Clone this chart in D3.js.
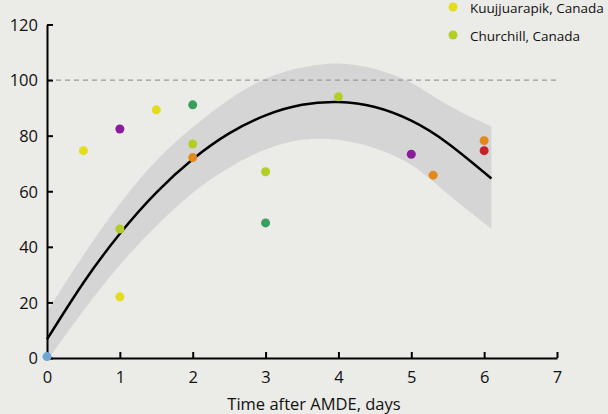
<!DOCTYPE html>
<html><head><meta charset="utf-8">
<script src="https://cdn.jsdelivr.net/npm/d3@7"></script>
<style>
html,body{margin:0;padding:0;background:#ebebe7;}
svg{display:block;}
text{font-family:"Open Sans","Liberation Sans",sans-serif;fill:#111;}
</style></head>
<body><svg id="c" width="608" height="414"></svg>
<script>
// observations
const obsX = [0, 0.5, 1, 1.5, 1, 5, 2, 3, 1, 2, 3, 4, 2, 5.3, 6, 6];
const obsY = [0.5, 74.6, 22, 89.3, 82.4, 73.3, 91.1, 48.6, 46.4, 77, 67, 94, 72.1, 65.8, 78.2, 74.6];
const obsColor = ["#6fa6d8","#e3dc1f","#e3dc1f","#e3dc1f","#8c1a9c","#8c1a9c","#3a9e5f","#3a9e5f",
  "#b5cd27","#b5cd27","#b5cd27","#b5cd27","#e3891a","#e3891a","#e3891a","#c81f2a"];
// fitted curve and confidence band
const fitX = [0, 0.5, 1, 1.5, 2, 2.5, 3, 3.5, 4, 4.5, 5, 5.5, 6.1];
const fitY = [6.7, 27.1, 44.7, 59.5, 71.5, 80.8, 87.3, 91.1, 92.1, 90.3, 85.4, 77.3, 64.6];
const bandUpper = [16.8, 37, 55.5, 71, 83, 93, 100.5, 104.5, 106, 104, 99, 91, 83.3];
const bandLower = [-1, 17, 33.5, 47.5, 59.5, 68.5, 75, 78.5, 78.5, 75.5, 69.5, 59, 46.5];
// legend
const legendLabels = ["Kuujjuarapik, Canada", "Churchill, Canada"];
const legendColors = ["#e3dc1f", "#b5cd27"];
// ticks
const xTicks = [0,1,2,3,4,5,6,7];
const yTicks = [0,20,40,60,80,100,120];

const svg = d3.select("#c");
const x = d3.scaleLinear().domain([0,7]).range([47,557]);
const y = d3.scaleLinear().domain([0,120]).range([358,24.5]);

// band
const bandData = fitX.map((d,i)=>({x:d, lo:bandLower[i], hi:bandUpper[i]}));
svg.append("path").datum(bandData)
  .attr("d", d3.area().x(d=>x(d.x)).y0(d=>y(d.lo)).y1(d=>y(d.hi)).curve(d3.curveNatural))
  .attr("fill","#d5d5d5");

// dashed 100 line
svg.append("line").attr("x1",x(0)).attr("x2",560).attr("y1",y(100)).attr("y2",y(100))
  .attr("stroke","#999").attr("stroke-width",1.3).attr("stroke-dasharray","5,4");

// fit line
svg.append("path").datum(fitX.map((d,i)=>[d,fitY[i]]))
  .attr("d", d3.line().x(d=>x(d[0])).y(d=>y(d[1])).curve(d3.curveNatural))
  .attr("fill","none").attr("stroke","#000").attr("stroke-width",2.5);

// axes
const xAxis = svg.append("g").attr("transform",`translate(0,${y(0)})`)
  .call(d3.axisBottom(x).tickValues(xTicks).tickSizeInner(-6).tickSizeOuter(0).tickFormat(d3.format("d")));
xAxis.select(".domain").attr("stroke","#000").attr("stroke-width",2);
xAxis.selectAll(".tick line").attr("stroke","#000").attr("stroke-width",2);
xAxis.selectAll(".tick text").attr("y",25).attr("dy",0).style("font-size","16.5px").style("font-family","'Open Sans',sans-serif").attr("fill","#111");

const yAxis = svg.append("g").attr("transform",`translate(${x(0)},0)`)
  .call(d3.axisLeft(y).tickValues(yTicks).tickSizeInner(-6).tickSizeOuter(0).tickFormat(d3.format("d")));
yAxis.select(".domain").attr("stroke","#000").attr("stroke-width",2);
yAxis.selectAll(".tick line").attr("stroke","#000").attr("stroke-width",2);
yAxis.selectAll(".tick text").attr("x",-9).attr("dy","0.35em").style("font-size","16.5px").style("font-family","'Open Sans',sans-serif").attr("fill","#111");

// points
svg.append("g").selectAll("circle").data(obsX).join("circle")
  .attr("cx",(d)=>x(d)).attr("cy",(d,i)=>y(obsY[i])).attr("r",4.5)
  .attr("fill",(d,i)=>obsColor[i]);

// axis title
svg.append("text").attr("x",314).attr("y",410).attr("text-anchor","middle")
  .style("font-size","16.5px").text("Time after AMDE, days");

// legend
const lg = svg.append("g");
legendLabels.forEach((lab,i)=>{
  lg.append("circle").attr("cx",453).attr("cy",7+i*28).attr("r",4.5).attr("fill",legendColors[i]);
  lg.append("text").attr("x",470).attr("y",13+i*28).style("font-size","13.5px").text(lab);
});
</script></body></html>
